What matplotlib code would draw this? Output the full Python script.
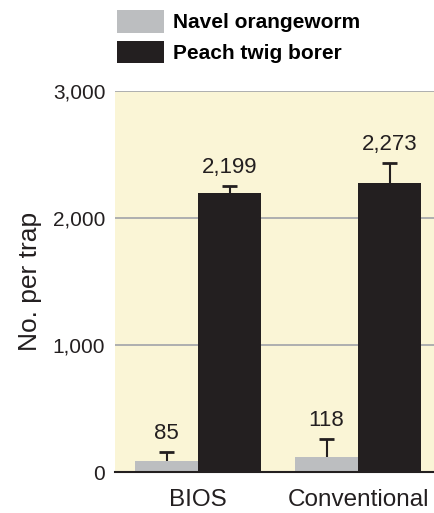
import numpy as np
import matplotlib.pyplot as plt
from matplotlib.ticker import FuncFormatter

plt.rcParams['font.family'] = ['Liberation Sans', 'DejaVu Sans']

groups = ['BIOS', 'Conventional']
series = ['Navel orangeworm', 'Peach twig borer']
navel = [85, 118]
navel_err = [73, 142]
peach = [2199, 2273]
peach_err = [53, 160]
yticks = [0, 1000, 2000, 3000]

colors = ['#bcbec0', '#231f20']
ink = '#231f20'

fig = plt.figure(figsize=(4.35, 5.13), dpi=100)
ax = fig.add_axes([115/435, 1 - 472/513, 320/435, (472 - 91)/513])
ax.set_facecolor('#faf5d6')

x = np.arange(len(groups))
w = 0.394
b1 = ax.bar(x - w/2, navel, w, color=colors[0], label=series[0], zorder=3)
b2 = ax.bar(x + w/2, peach, w, color=colors[1], label=series[1], zorder=3)

cap = 0.045
for xs, vals, errs in [(x - w/2, navel, navel_err), (x + w/2, peach, peach_err)]:
    tops = np.array(vals) + np.array(errs)
    ax.vlines(xs, vals, tops, color=ink, linewidth=1.5, zorder=2.5)
    ax.hlines(tops, xs - cap, xs + cap, color=ink, linewidth=2, zorder=2.5)
    for xi, v, t in zip(xs, vals, tops):
        ax.annotate(f'{v:,}', (xi, t), xytext=(0, 5.5), textcoords='offset points',
                    ha='center', va='bottom', fontsize=16, color=ink)

ax.set_xlim(-0.519, 1.481)
ax.set_ylim(0, 3000)
ax.set_yticks(yticks)
ax.yaxis.set_major_formatter(FuncFormatter(lambda v, p: f'{int(v):,}'))
ax.set_xticks(x)
ax.set_xticklabels(groups)
ax.tick_params(axis='y', length=0, pad=7, labelsize=15, labelcolor=ink)
ax.tick_params(axis='x', length=0, pad=12, labelsize=17.5, labelcolor=ink)
ax.grid(axis='y', color='#a7a9ac', linewidth=1.3, zorder=1)
ax.set_axisbelow(True)
for s in ['left', 'right', 'top']:
    ax.spines[s].set_visible(False)
ax.spines['bottom'].set_color(ink)
ax.spines['bottom'].set_linewidth(1.5)
ax.spines['bottom'].set_zorder(5)

ax.set_ylabel('No. per trap', fontsize=19, color=ink, labelpad=8)

fig.legend(handles=[b1, b2], loc='upper left', bbox_to_anchor=(117/435, 1 - 10/513),
           frameon=False, borderpad=0, borderaxespad=0, handlelength=2.26,
           handleheight=1.3, labelspacing=0.38, handletextpad=0.43,
           prop={'weight': 'bold', 'size': 15})

fig.savefig('out.png', dpi=100)
